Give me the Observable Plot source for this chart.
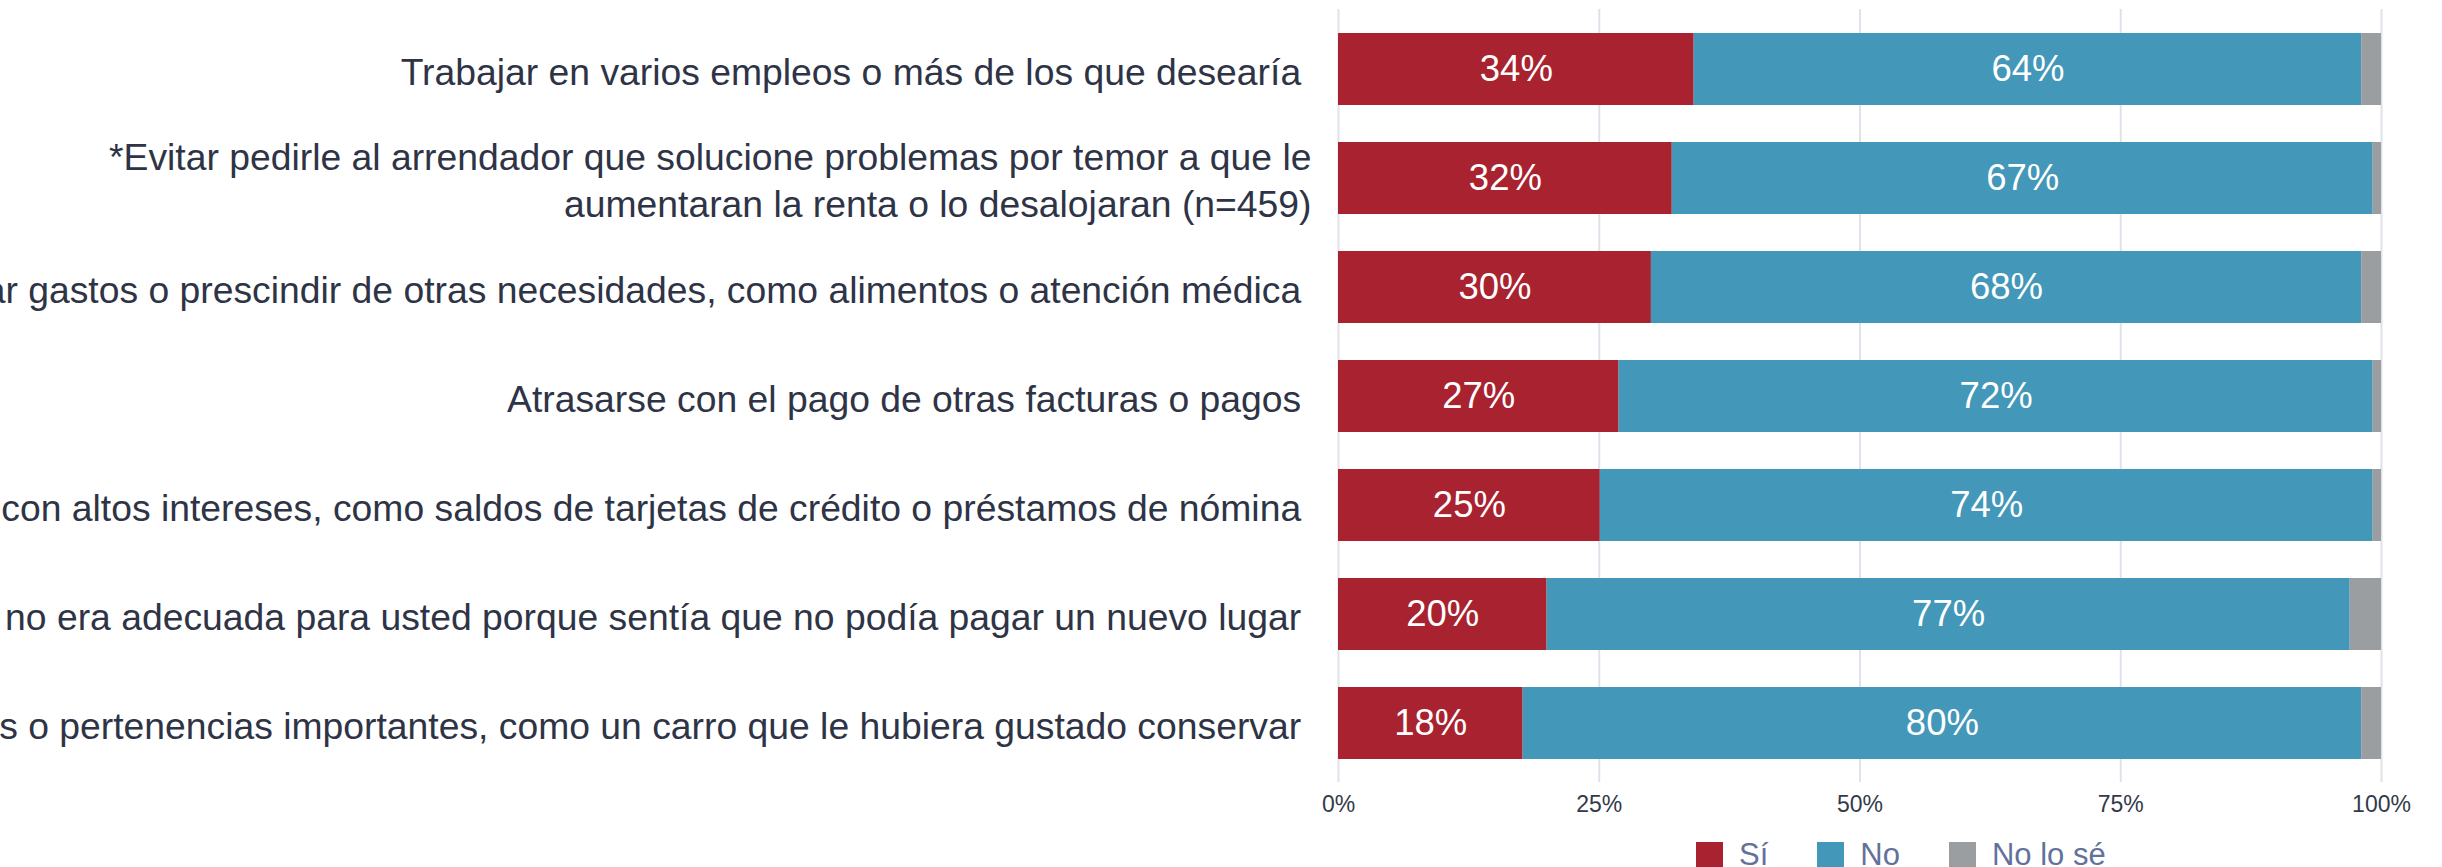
<!DOCTYPE html>
<html><head><meta charset="utf-8">
<script src="https://cdn.jsdelivr.net/npm/d3@7"></script>
<script src="https://cdn.jsdelivr.net/npm/@observablehq/plot@0.6"></script>
<style>
html, body { margin:0; padding:0; background:#fff; overflow:hidden; }
#legend { margin-left: 1696px; margin-top: 7px; }
#legend div, #legend span { font-family: "Liberation Sans", Arial, sans-serif !important; font-size: 31px !important; color: #63729a !important; }
#legend span { margin-right: 49px !important; }
#legend svg { margin-right: 16px !important; }
</style></head><body><div id="chart"></div><div id="legend"></div>
<script>
const categories = [
  "Trabajar en varios empleos o más de los que desearía",
  "*Evitar pedirle al arrendador que solucione problemas por temor a que le\naumentaran la renta o lo desalojaran (n=459)",
  "Recortar gastos o prescindir de otras necesidades, como alimentos o atención médica",
  "Atrasarse con el pago de otras facturas o pagos",
  "Acumular deudas con altos intereses, como saldos de tarjetas de crédito o préstamos de nómina",
  "Permanecer en una vivienda que no era adecuada para usted porque sentía que no podía pagar un nuevo lugar",
  "Vender bienes o pertenencias importantes, como un carro que le hubiera gustado conservar"
];
const responses = ["Sí", "No", "No lo sé"];
const colors = ["#a8222f", "#4397b8", "#9a9ea1"];
const si   = [34.1, 32.0, 30.0, 26.9, 25.1, 20.0, 17.7];
const no   = [64.0, 67.2, 68.1, 72.3, 74.1, 77.0, 80.4];
const noSe = [1.9, 0.8, 1.9, 0.8, 0.8, 3.0, 1.9];
const xTicks = [0, 25, 50, 75, 100];

const rows = [];
categories.forEach((c, i) => {
  rows.push({cat: c, resp: "Sí", value: si[i]});
  rows.push({cat: c, resp: "No", value: no[i]});
  rows.push({cat: c, resp: "No lo sé", value: noSe[i]});
});

const plot = Plot.plot({
  width: 2442,
  height: 830,
  marginLeft: 1338,
  marginRight: 61,
  marginTop: 9,
  marginBottom: 48,
  style: {fontFamily: "Liberation Sans, Arial, sans-serif", fontSize: "23px", color: "#333a4a", background: "#fff", overflow: "visible"},
  x: {domain: [0, 100], ticks: xTicks, tickFormat: d => d + "%", tickSize: 0, tickPadding: 13, label: null},
  y: {domain: categories, paddingInner: 0.34, paddingOuter: 0.2125, axis: null},
  color: {domain: responses, range: colors},
  marks: [
    Plot.ruleX(xTicks, {stroke: "#dfe2ea", strokeWidth: 2}),
    Plot.barX(rows, {x: "value", y: "cat", fill: "resp"}),
    Plot.text(rows.filter(d => d.resp !== "No lo sé"),
      Plot.stackX({x: "value", y: "cat", z: "resp", text: d => Math.round(d.value) + "%", fill: "white", fontSize: 36.5})),
    Plot.text(categories, {y: d => d, text: d => d.includes("\n") ? d : d + "\u00a0", frameAnchor: "left", textAnchor: "end", dx: -27, fontSize: 37.3, fill: "#2e3446", lineHeight: 1.27})
  ]
});
document.getElementById("chart").append(plot);
const legend = plot.legend("color", {className: "lg", swatchSize: 27});
document.getElementById("legend").append(legend);
</script>
</body></html>
